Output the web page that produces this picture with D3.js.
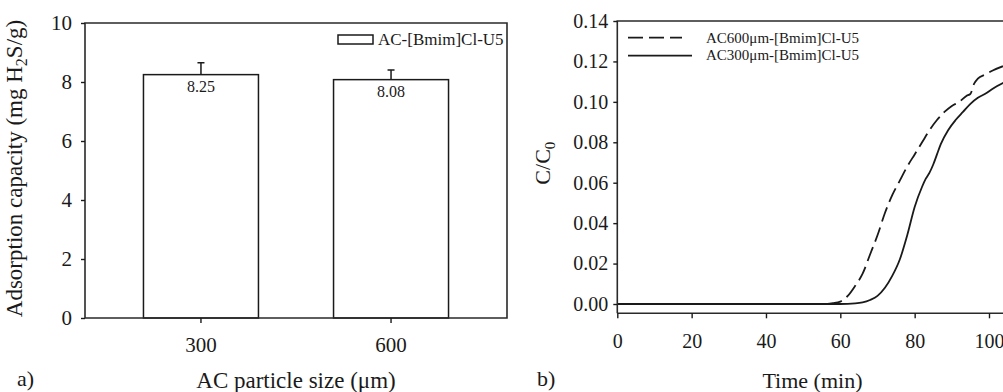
<!DOCTYPE html>
<html>
<head>
<meta charset="utf-8">
<script src="https://cdn.jsdelivr.net/npm/d3@7"></script>
<style>
  html, body { margin: 0; padding: 0; background: #fff; }
  svg { display: block; font-family: "Liberation Serif", "Times New Roman", serif; }
  text { fill: #1a1a1a; }
</style>
</head>
<body>
<svg id="fig" width="1003" height="392"></svg>
<script>
// Panel a: adsorption capacity by AC particle size
const particleSizes = ["300", "600"];
const capacity = [8.25, 8.08];
const capacityErr = [0.40, 0.33];
const capacityTicks = [0, 2, 4, 6, 8, 10];
const barLegend = "AC-[Bmim]Cl-U5";

// Panel b: breakthrough curves C/C0 vs time
const time300 = [0, 60, 64, 66, 68, 70, 72, 74, 76, 78, 80, 82, 83, 84, 85, 86, 87, 89, 91, 93, 95, 97, 99, 101, 104];
const ratio300 = [0, 0, 0.0003, 0.0008, 0.002, 0.004, 0.008, 0.014, 0.022, 0.034, 0.048, 0.058, 0.062, 0.065, 0.069, 0.074, 0.079, 0.086, 0.091, 0.095, 0.099, 0.102, 0.104, 0.1065, 0.1095];
const time600 = [0, 56, 58, 60, 62, 64, 66, 68, 70, 72, 74, 76, 78, 80, 82, 84, 86, 88, 90, 92, 94, 95, 96, 97, 99, 101, 104];
const ratio600 = [0, 0, 0.0004, 0.0012, 0.004, 0.009, 0.015, 0.0245, 0.034, 0.045, 0.054, 0.061, 0.068, 0.074, 0.080, 0.086, 0.091, 0.095, 0.098, 0.100, 0.103, 0.104, 0.109, 0.1115, 0.1135, 0.1155, 0.1178];
const timeTicks = [0, 20, 40, 60, 80, 100];
const ratioTicks = [0, 0.02, 0.04, 0.06, 0.08, 0.10, 0.12, 0.14];
const curveLabels = ["AC600\u03bcm-[Bmim]Cl-U5", "AC300\u03bcm-[Bmim]Cl-U5"];

const ink = "#1a1a1a";
const svg = d3.select("#fig");

function styleAxis(g, fontSize) {
  g.selectAll(".domain").remove();
  g.selectAll(".tick line").attr("stroke", ink).attr("stroke-width", 1.4);
  g.selectAll(".tick text").attr("font-size", fontSize).attr("fill", ink)
    .attr("font-family", '"Liberation Serif", "Times New Roman", serif');
}

function frame(x0, x1, y0, y1) {
  svg.append("path")
    .attr("d", `M${x0},${y1}V${y0}H${x1}V${y1}H${x0}`)
    .attr("fill", "none").attr("stroke", "#2a2a2a").attr("stroke-width", 1.6);
}

// ---------- panel a ----------
{
  const L = 85, R = 507, T = 23, B = 318;
  const x = d3.scaleBand().domain(particleSizes).range([L, R])
    .paddingInner(0.395).paddingOuter(0.3076);
  const y = d3.scaleLinear().domain([0, 10]).range([B, T]);

  const bars = svg.append("g");
  particleSizes.forEach((s, i) => {
    const v = capacity[i];
    bars.append("rect")
      .attr("x", x(s)).attr("y", y(v))
      .attr("width", x.bandwidth()).attr("height", y(0) - y(v))
      .attr("fill", "#fff").attr("stroke", ink).attr("stroke-width", 1.5);
    const cx = x(s) + x.bandwidth() / 2;
    bars.append("path")
      .attr("d", `M${cx},${y(v)}V${y(v + capacityErr[i])}M${cx - 3.5},${y(v + capacityErr[i])}H${cx + 3.5}`)
      .attr("stroke", ink).attr("stroke-width", 1.5).attr("fill", "none");
    bars.append("text")
      .attr("x", cx).attr("y", y(v) + 17.5)
      .attr("text-anchor", "middle").attr("font-size", 16)
      .text(v.toFixed(2));
  });

  frame(L, R, T, B);

  svg.append("g").attr("transform", `translate(${L},0)`)
    .call(d3.axisLeft(y).tickValues(capacityTicks).tickSize(4).tickPadding(9).tickFormat(d3.format("d")))
    .call(g => styleAxis(g, 21));
  svg.append("g").attr("transform", `translate(0,${B})`)
    .call(d3.axisBottom(x).tickSize(5).tickPadding(14))
    .call(g => styleAxis(g, 21));

  // legend
  svg.append("rect").attr("x", 338).attr("y", 35).attr("width", 35).attr("height", 9)
    .attr("fill", "#fff").attr("stroke", ink).attr("stroke-width", 1.5);
  svg.append("text").attr("x", 378).attr("y", 44.5).attr("font-size", 17).text(barLegend);

  // axis titles
  const yt = svg.append("text")
    .attr("transform", `translate(22,${(T + B) / 2 - 2}) rotate(-90)`)
    .attr("text-anchor", "middle").attr("font-size", 23);
  yt.append("tspan").text("Adsorption capacity (mg H");
  yt.append("tspan").attr("font-size", 16).attr("dy", 5).text("2");
  yt.append("tspan").attr("dy", -5).text("S/g)");

  svg.append("text").attr("x", (L + R) / 2).attr("y", 388)
    .attr("text-anchor", "middle").attr("font-size", 23).text("AC particle size (\u03bcm)");
  svg.append("text").attr("x", 17).attr("y", 386).attr("font-size", 22).text("a)");
}

// ---------- panel b ----------
{
  const L = 617.3, T = 21, B = 313.3;
  const x = d3.scaleLinear().domain([0, 105]).range([L, L + 105 * 3.717]);
  const y = d3.scaleLinear().domain([-0.0046, 0.14]).range([B, T]);
  const R = x(105);

  const line = d3.line().x(d => x(d[0])).y(d => y(d[1])).curve(d3.curveMonotoneX);

  svg.append("path").datum(time300.map((t, i) => [t, ratio300[i]]))
    .attr("d", line).attr("fill", "none").attr("stroke", ink).attr("stroke-width", 1.8);
  svg.append("path").datum(time600.map((t, i) => [t, ratio600[i]]))
    .attr("d", line).attr("fill", "none").attr("stroke", ink).attr("stroke-width", 1.8)
    .attr("stroke-dasharray", "15,6");

  frame(L, R, T, B);

  svg.append("g").attr("transform", `translate(${L},0)`)
    .call(d3.axisLeft(y).tickValues(ratioTicks).tickSize(4).tickPadding(5).tickFormat(d3.format(".2f")))
    .call(g => styleAxis(g, 20));
  svg.append("g").attr("transform", `translate(0,${B})`)
    .call(d3.axisBottom(x).tickValues(timeTicks).tickSize(5).tickPadding(16).tickFormat(d3.format("d")))
    .call(g => styleAxis(g, 20));

  // legend
  svg.append("line").attr("x1", 628).attr("x2", 682).attr("y1", 37.7).attr("y2", 37.7)
    .attr("stroke", ink).attr("stroke-width", 1.8).attr("stroke-dasharray", "15,6");
  svg.append("line").attr("x1", 628).attr("x2", 692).attr("y1", 55.7).attr("y2", 55.7)
    .attr("stroke", ink).attr("stroke-width", 1.8);
  svg.append("text").attr("x", 706).attr("y", 42.5).attr("font-size", 15).text(curveLabels[0]);
  svg.append("text").attr("x", 706).attr("y", 60).attr("font-size", 15).text(curveLabels[1]);

  // axis titles
  const yt = svg.append("text")
    .attr("transform", `translate(550,${(T + B) / 2 - 4}) rotate(-90)`)
    .attr("text-anchor", "middle").attr("font-size", 22);
  yt.append("tspan").text("C/C");
  yt.append("tspan").attr("font-size", 15).attr("dy", 5).text("0");

  svg.append("text").attr("x", (L + R) / 2).attr("y", 388)
    .attr("text-anchor", "middle").attr("font-size", 22).text("Time (min)");
  svg.append("text").attr("x", 537).attr("y", 386).attr("font-size", 22).text("b)");
}
</script>
</body>
</html>
